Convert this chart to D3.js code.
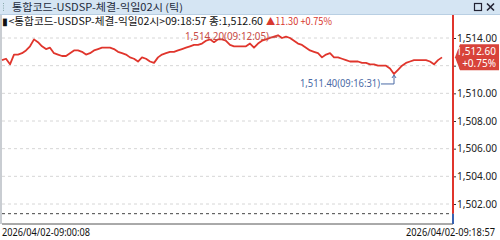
<!DOCTYPE html>
<html><head><meta charset="utf-8">
<script src="https://cdn.jsdelivr.net/npm/d3@7"></script>
<style>
html,body{margin:0;padding:0;background:#fff;}
svg{display:block;font-family:"Noto Sans CJK KR","Noto Sans",sans-serif;}
</style></head>
<body>
<svg id="c" width="500" height="240"></svg>
<script>
const titleText = "통합코드-USDSP-체결-익일02시 (틱)";
const infoText = "▮<통합코드-USDSP-체결-익일02시>09:18:57 종:1,512.60";
const infoChange = "▲11.30 +0.75%";
const startLabel = "2026/04/02-09:00:08";
const endLabel = "2026/04/02-09:18:57";
const yTicks = [1502, 1504, 1506, 1508, 1510, 1512, 1514];
const prevClose = [1501.30];
const lastBadge = ["1,512.60", "+0.75%"];
const extremeTimes = ["09:12:05", "09:16:31"];
const prices = [
1512.4,1512.5,1512.1,1512.8,1512.8,1512.9,1513.1,1513.4,1513.9,1513.7,
1513.4,1513.2,1513.3,1512.9,1512.8,1512.7,1512.7,1512.9,1513.1,1513.1,
1513.0,1512.8,1512.9,1513.1,1513.2,1513.3,1513.3,1513.3,1513.2,1513.0,
1512.9,1512.8,1512.6,1512.5,1512.3,1512.6,1512.5,1512.3,1512.2,1512.6,
1512.8,1512.9,1513.0,1513.0,1513.1,1513.2,1513.3,1513.4,1513.5,1513.5,
1513.6,1513.8,1513.9,1513.7,1513.9,1513.9,1513.8,1513.5,1513.4,1513.4,
1513.4,1513.4,1513.6,1513.3,1513.6,1513.8,1513.9,1514.0,1514.1,1514.2,
1514.0,1514.1,1514.0,1513.8,1513.6,1513.5,1513.3,1513.1,1513.0,1512.9,
1512.6,1512.8,1512.9,1512.6,1512.6,1512.5,1512.4,1512.3,1512.3,1512.3,
1512.2,1512.2,1512.1,1512.1,1512.0,1512.0,1512.0,1511.8,1511.4,1511.7,
1512.0,1512.2,1512.3,1512.4,1512.4,1512.4,1512.4,1512.3,1512.1,1512.4,
1512.6
];

const svg = d3.select("#c");
const plotL = 2, plotR = 453, axisY = 224;
const x = d3.scaleLinear().domain([0, prices.length - 1]).range([plotL, 442]);
const y = d3.scaleLinear().domain([1502, 1514]).range([204, 38]);

// title bar
svg.append("rect").attr("x",0).attr("y",0).attr("width",500).attr("height",14).attr("fill","#d5e5f3");
svg.append("rect").attr("x",0).attr("y",14).attr("width",500).attr("height",1).attr("fill","#b9cfe3");
for (let i=0;i<4;i++) svg.append("rect").attr("x",3).attr("y",3+i*2.3).attr("width",1).attr("height",1).attr("fill","#8aa");
svg.append("text").attr("x",12).attr("y",10.5).attr("font-size",10).attr("fill","#1d2b3c")
  .attr("textLength",171).attr("lengthAdjust","spacingAndGlyphs").text(titleText);
svg.append("rect").attr("x",474.5).attr("y",3.5).attr("width",7).attr("height",7).attr("fill","none").attr("stroke","#223").attr("stroke-width",1.2);
svg.append("path").attr("d","M487,3.5 L494,10.5 M494,3.5 L487,10.5").attr("stroke","#223").attr("stroke-width",1.6);

// left border strip
svg.append("rect").attr("x",0).attr("y",15).attr("width",2).attr("height",209).attr("fill","#c9cdd2");

// info line
svg.append("text").attr("x",2).attr("y",24.5).attr("font-size",10).attr("fill","#111")
  .attr("textLength",261).attr("lengthAdjust","spacingAndGlyphs").text(infoText);
svg.append("text").attr("x",266).attr("y",24.5).attr("font-size",10).attr("fill","#d8382f")
  .attr("textLength",66).attr("lengthAdjust","spacingAndGlyphs").text(infoChange);

// gridlines
svg.append("g").selectAll("line").data(yTicks).join("line")
  .attr("x1",plotL).attr("x2",plotR).attr("y1",d=>y(d)).attr("y2",d=>y(d))
  .attr("stroke","#d6d6d6").attr("stroke-dasharray","3,3");
// previous close line
svg.append("line").attr("x1",plotL).attr("x2",plotR).attr("y1",y(prevClose[0])).attr("y2",y(prevClose[0]))
  .attr("stroke","#444").attr("stroke-dasharray","3,3");

// bottom axis line
svg.append("line").attr("x1",plotL).attr("x2",plotR).attr("y1",axisY).attr("y2",axisY).attr("stroke","#555").attr("stroke-width",1);

// price line
const line = d3.line().x((d,i)=>x(i)).y(d=>y(d));
svg.append("path").datum(prices).attr("d",line).attr("fill","none")
  .attr("stroke","#e0352c").attr("stroke-width",1.8).attr("stroke-linejoin","round");

// y axis
const yAxis = d3.axisRight(y).tickValues(yTicks).tickSize(3).tickPadding(1).tickFormat(d3.format(",.2f"));
const ga = svg.append("g").attr("transform",`translate(${plotR},0)`).call(yAxis);
ga.select(".domain").remove();
ga.selectAll(".tick line").attr("stroke","#333");
ga.selectAll(".tick text").attr("font-size",10).attr("fill","#222")
  .attr("font-family","'Noto Sans',sans-serif").attr("textLength",40).attr("lengthAdjust","spacingAndGlyphs");

// vertical axis line red above prev close, blue below
svg.append("line").attr("x1",plotR).attr("x2",plotR).attr("y1",15).attr("y2",y(prevClose[0]))
  .attr("stroke","#e0352c").attr("stroke-width",2);
svg.append("line").attr("x1",plotR).attr("x2",plotR).attr("y1",y(prevClose[0])).attr("y2",axisY)
  .attr("stroke","#3a62b0").attr("stroke-width",2);

// last price badge
const last = prices[prices.length-1];
const by = y(last);
svg.append("path").attr("d",`M${plotR+2},${by} L${plotR+7},${by-13} L499,${by-13} L499,${by+13} L${plotR+7},${by+13} Z`)
  .attr("fill","#d8433a");
svg.append("text").attr("x",496).attr("y",by-2).attr("text-anchor","end").attr("font-size",10).attr("fill","#fff")
  .attr("font-family","'Noto Sans',sans-serif").text(lastBadge[0]);
svg.append("text").attr("x",496).attr("y",by+10).attr("text-anchor","end").attr("font-size",10).attr("fill","#fff")
  .attr("font-family","'Noto Sans',sans-serif").text(lastBadge[1]);

// max annotation
const iMax = d3.maxIndex(prices), iMin = d3.minIndex(prices);
const mx = x(iMax), my = y(prices[iMax]);
svg.append("text").attr("x",mx-93).attr("y",my+5).attr("font-size",10).attr("fill","#c84a44")
  .attr("font-family","'Noto Sans',sans-serif").attr("textLength",84).attr("lengthAdjust","spacingAndGlyphs")
  .text(d3.format(",.2f")(prices[iMax]) + "(" + extremeTimes[0] + ")");
svg.append("path").attr("d",`M${mx-9},${my+2} L${mx-1},${my+2} L${mx-1},${my}`).attr("fill","none").attr("stroke","#c84a44");

// min annotation
const nx = x(iMin), ny = y(prices[iMin]);
svg.append("text").attr("x",nx-94).attr("y",ny+13).attr("font-size",10).attr("fill","#4a6aa5")
  .attr("font-family","'Noto Sans',sans-serif").attr("textLength",80).attr("lengthAdjust","spacingAndGlyphs")
  .text(d3.format(",.2f")(prices[iMin]) + "(" + extremeTimes[1] + ")");
svg.append("path").attr("d",`M${nx-13},${ny+10} L${nx},${ny+10} L${nx},${ny+2}`).attr("fill","none").attr("stroke","#4a6aa5");
svg.append("path").attr("d",`M${nx-2},${ny+4} L${nx},${ny+1} L${nx+2},${ny+4}`).attr("fill","none").attr("stroke","#4a6aa5");

// date labels
svg.append("text").attr("x",2).attr("y",236).attr("font-size",10).attr("fill","#111")
  .attr("font-family","'Noto Sans',sans-serif").attr("textLength",88).attr("lengthAdjust","spacingAndGlyphs").text(startLabel);
svg.append("text").attr("x",406).attr("y",236).attr("font-size",10).attr("fill","#111")
  .attr("font-family","'Noto Sans',sans-serif").attr("textLength",89).attr("lengthAdjust","spacingAndGlyphs").text(endLabel);
</script>
</body></html>
